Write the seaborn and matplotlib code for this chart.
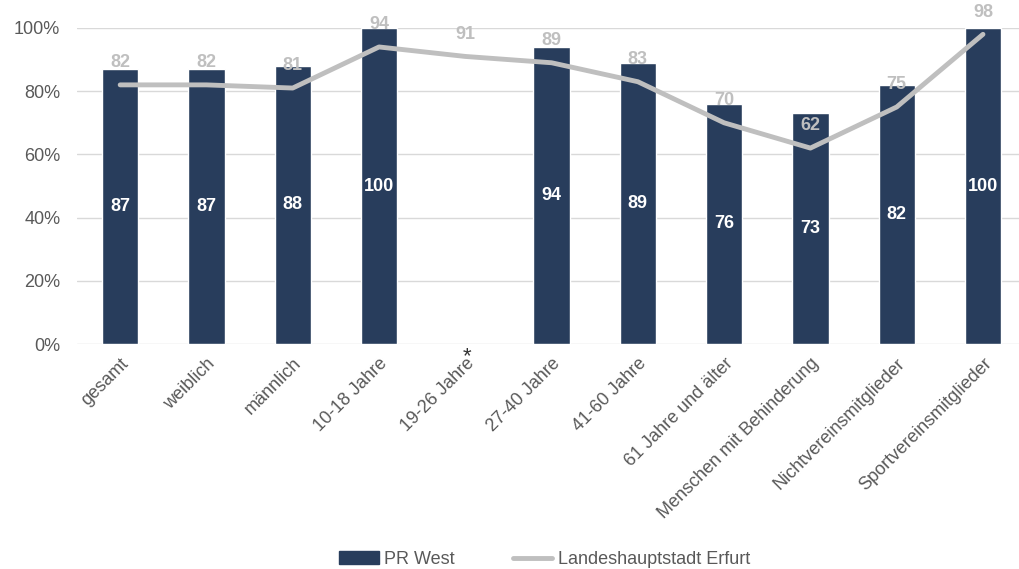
import numpy as np
import pandas as pd
import matplotlib
matplotlib.use("Agg")
import matplotlib.pyplot as plt
import matplotlib.transforms as mtransforms
import seaborn as sns

categories = ["gesamt", "weiblich", "männlich", "10-18 Jahre", "19-26 Jahre",
              "27-40 Jahre", "41-60 Jahre", "61 Jahre und älter",
              "Menschen mit Behinderung", "Nichtvereinsmitglieder",
              "Sportvereinsmitglieder"]
pr_west = [87, 87, 88, 100, np.nan, 94, 89, 76, 73, 82, 100]
erfurt = [82, 82, 81, 94, 91, 89, 83, 70, 62, 75, 98]
y_ticks = [0, 20, 40, 60, 80, 100]
series_names = ["PR West", "Landeshauptstadt Erfurt"]

bar_color = "#283d5c"
line_color = "#bfbfbf"
text_gray = "#595959"

sns.set_theme(style="white")
plt.rcParams["font.family"] = ["Liberation Sans", "DejaVu Sans"]

fig = plt.figure(figsize=(10.2, 5.69), dpi=100)
ax = fig.add_axes([0.0755, 0.3954, 0.9305, 0.5554])

df = pd.DataFrame({"Kategorie": categories, "PR West": pr_west, "Erfurt": erfurt})
pos = np.arange(len(categories))

sns.barplot(data=df, x="Kategorie", y="PR West", order=categories,
            color=bar_color, saturation=1, width=0.42, ax=ax, zorder=2)
sns.lineplot(x=pos, y=df["Erfurt"], color=line_color, linewidth=3.5,
             ax=ax, zorder=3, solid_capstyle="round")

ax.set_xlim(-0.5, len(categories) - 0.5)
ax.set_ylim(0, 100)
ax.set_yticks(y_ticks)
ax.set_yticklabels([f"{t}%" for t in y_ticks], fontsize=13, color=text_gray)
ax.yaxis.grid(True, color="#d9d9d9", linewidth=1)
ax.set_axisbelow(True)
for s in ax.spines.values():
    s.set_visible(False)
ax.tick_params(axis="both", length=0)
ax.tick_params(axis="y", pad=12)
ax.tick_params(axis="x", pad=6)
ax.set_xlabel("")
ax.set_ylabel("")
ax.set_xticks(pos)
ax.set_xticklabels(categories, rotation=45, ha="right", rotation_mode="anchor",
                   fontsize=13, color=text_gray)

# nudge the slanted category labels so their ends sit under the bars
shift = mtransforms.ScaledTranslation(0 / 72, -2 / 72, fig.dpi_scale_trans)
for lbl in ax.get_xticklabels():
    lbl.set_transform(lbl.get_transform() + shift)

# bar values in the middle of each bar
for x, v in zip(pos, pr_west):
    if not np.isnan(v):
        ax.text(x, v / 2, f"{v:.0f}", ha="center", va="center", color="white",
                fontsize=13, fontweight="bold", zorder=4)

# line values above each point
for x, v in zip(pos, erfurt):
    ax.annotate(f"{v}", (x, v), xytext=(0, 16), textcoords="offset points",
                ha="center", va="center", color=line_color, fontsize=13,
                fontweight="bold", zorder=5, annotation_clip=False)

# footnote marker for the age group without a bar
ax.annotate("*", (4, 0), xytext=(1, -9), textcoords="offset points",
            ha="center", va="center", fontsize=16, color="#333333",
            annotation_clip=False)

handles = [plt.Rectangle((0, 0), 1, 1, color=bar_color),
           plt.Line2D([0], [0], color=line_color, linewidth=3.5)]
fig.legend(handles, series_names, loc="center", bbox_to_anchor=(0.534, 0.017),
           ncol=2, frameon=False, fontsize=13, labelcolor=text_gray,
           handlelength=2.2, handletextpad=0.3, columnspacing=3.2)

fig.savefig("out.png", dpi=100)
